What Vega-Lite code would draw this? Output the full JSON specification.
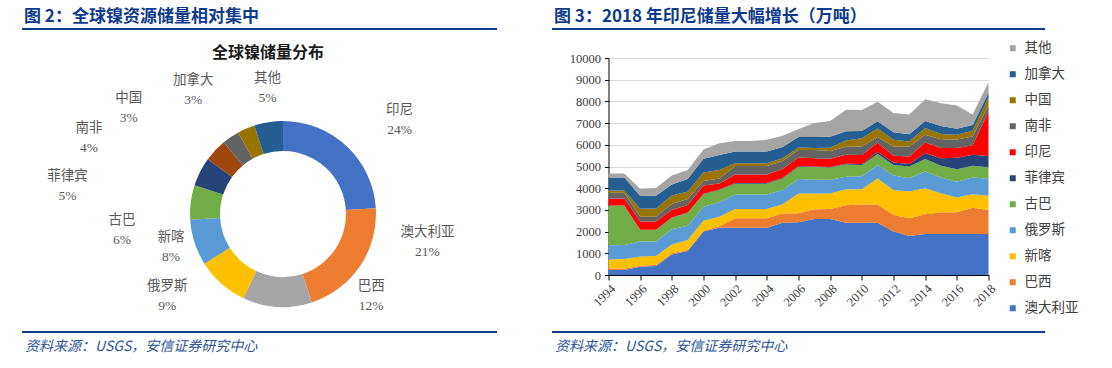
{
  "$schema": "https://vega.github.io/schema/vega-lite/v6.json",
  "padding": {"left": 22, "top": 8, "right": 0, "bottom": 0},
  "autosize": {"type": "pad"},
  "spacing": 8,
  "resolve": {"scale": {"color": "independent"}, "legend": {"color": "independent"}},
  "datasets": {
    "share": [
      {"country": "印尼", "pct": 24},
      {"country": "澳大利亚", "pct": 21},
      {"country": "巴西", "pct": 12},
      {"country": "俄罗斯", "pct": 9},
      {"country": "新喀", "pct": 8},
      {"country": "古巴", "pct": 6},
      {"country": "菲律宾", "pct": 5},
      {"country": "南非", "pct": 4},
      {"country": "中国", "pct": 3},
      {"country": "加拿大", "pct": 3},
      {"country": "其他", "pct": 5}
    ],
    "reserves": [
      {"year": 1994, "澳大利亚": 230, "巴西": 70, "新喀": 420, "俄罗斯": 650, "古巴": 1820, "菲律宾": 10, "印尼": 320, "南非": 270, "中国": 100, "加拿大": 600, "其他": 190},
      {"year": 1995, "澳大利亚": 230, "巴西": 70, "新喀": 440, "俄罗斯": 640, "古巴": 1810, "菲律宾": 10, "印尼": 320, "南非": 270, "中国": 100, "加拿大": 600, "其他": 190},
      {"year": 1996, "澳大利亚": 380, "巴西": 50, "新喀": 420, "俄罗斯": 690, "古巴": 540, "菲律宾": 10, "印尼": 370, "南非": 230, "中国": 360, "加拿大": 590, "其他": 320},
      {"year": 1997, "澳大利亚": 410, "巴西": 50, "新喀": 420, "俄罗斯": 660, "古巴": 540, "菲律宾": 10, "印尼": 370, "南非": 230, "中国": 370, "加拿大": 590, "其他": 360},
      {"year": 1998, "澳大利亚": 950, "巴西": 50, "新喀": 410, "俄罗斯": 700, "古巴": 530, "菲律宾": 10, "印尼": 340, "南非": 280, "中国": 390, "加拿大": 510, "其他": 410},
      {"year": 1999, "澳大利亚": 1110, "巴西": 40, "新喀": 460, "俄罗斯": 660, "古巴": 590, "菲律宾": 20, "印尼": 350, "南非": 270, "中国": 340, "加拿大": 580, "其他": 420},
      {"year": 2000, "澳大利亚": 2000, "巴西": 40, "新喀": 460, "俄罗斯": 650, "古巴": 570, "菲律宾": 30, "印尼": 370, "南非": 210, "中国": 390, "加拿大": 640, "其他": 420},
      {"year": 2001, "澳大利亚": 2180, "巴西": 70, "新喀": 440, "俄罗斯": 660, "古巴": 570, "菲律宾": 20, "印尼": 280, "南非": 230, "中国": 390, "加拿大": 690, "其他": 540},
      {"year": 2002, "澳大利亚": 2180, "巴西": 430, "新喀": 430, "俄罗斯": 670, "古巴": 500, "菲律宾": 30, "印尼": 390, "南非": 390, "中国": 130, "加拿大": 540, "其他": 480},
      {"year": 2003, "澳大利亚": 2180, "巴西": 430, "新喀": 430, "俄罗斯": 670, "古巴": 500, "菲律宾": 30, "印尼": 390, "南非": 390, "中国": 130, "加拿大": 540, "其他": 480},
      {"year": 2004, "澳大利亚": 2180, "巴西": 430, "新喀": 430, "俄罗斯": 670, "古巴": 500, "菲律宾": 30, "印尼": 390, "南非": 390, "中国": 130, "加拿大": 540, "其他": 540},
      {"year": 2005, "澳大利亚": 2410, "巴西": 420, "新喀": 430, "俄罗斯": 660, "古巴": 530, "菲律宾": 30, "印尼": 400, "南非": 370, "中国": 130, "加拿大": 520, "其他": 520},
      {"year": 2006, "澳大利亚": 2430, "巴西": 410, "新喀": 920, "俄罗斯": 660, "古巴": 570, "菲律宾": 30, "印尼": 390, "南非": 350, "中国": 120, "加拿大": 480, "其他": 370},
      {"year": 2007, "澳大利亚": 2580, "巴西": 450, "新喀": 730, "俄罗斯": 630, "古巴": 590, "菲律宾": 20, "印尼": 380, "南非": 380, "中国": 90, "加拿大": 510, "其他": 640},
      {"year": 2008, "澳大利亚": 2580, "巴西": 460, "新喀": 720, "俄罗斯": 630, "古巴": 560, "菲律宾": 30, "印尼": 380, "南非": 360, "中国": 140, "加拿大": 510, "其他": 730},
      {"year": 2009, "澳大利亚": 2410, "巴西": 810, "新喀": 730, "俄罗斯": 580, "古巴": 560, "菲律宾": 40, "印尼": 410, "南非": 370, "中国": 290, "加拿大": 430, "其他": 980},
      {"year": 2010, "澳大利亚": 2410, "巴西": 840, "新喀": 700, "俄罗斯": 600, "古巴": 520, "菲律宾": 50, "印尼": 410, "南非": 390, "中国": 380, "加拿大": 340, "其他": 960},
      {"year": 2011, "澳大利亚": 2410, "巴西": 840, "新喀": 1200, "俄罗斯": 620, "古巴": 510, "菲律宾": 100, "印尼": 420, "南非": 260, "中国": 390, "加拿大": 340, "其他": 890},
      {"year": 2012, "澳大利亚": 2000, "巴西": 770, "新喀": 1150, "俄罗斯": 660, "古巴": 490, "菲律宾": 110, "印尼": 320, "南非": 420, "中国": 310, "加拿大": 350, "其他": 890},
      {"year": 2013, "澳大利亚": 1800, "巴西": 820, "新喀": 1230, "俄罗斯": 610, "古巴": 540, "菲律宾": 110, "印尼": 350, "南非": 460, "中国": 230, "加拿大": 340, "其他": 910},
      {"year": 2014, "澳大利亚": 1890, "巴西": 910, "新喀": 1200, "俄罗斯": 770, "古巴": 570, "菲律宾": 280, "印尼": 490, "南非": 350, "中国": 310, "加拿大": 330, "其他": 1000},
      {"year": 2015, "澳大利亚": 1890, "巴西": 1000, "新喀": 880, "俄罗斯": 720, "古巴": 540, "菲律宾": 350, "印尼": 470, "南非": 410, "中国": 240, "加拿大": 370, "其他": 1050},
      {"year": 2016, "澳大利亚": 1890, "巴西": 1000, "新喀": 680, "俄罗斯": 730, "古巴": 570, "菲律宾": 530, "印尼": 450, "南非": 390, "中国": 220, "加拿大": 280, "其他": 1070},
      {"year": 2017, "澳大利亚": 1890, "巴西": 1210, "新喀": 620, "俄罗斯": 770, "古巴": 540, "菲律宾": 510, "印尼": 440, "南非": 400, "中国": 270, "加拿大": 260, "其他": 490},
      {"year": 2018, "澳大利亚": 1890, "巴西": 1100, "新喀": 660, "俄罗斯": 780, "古巴": 530, "菲律宾": 520, "印尼": 2060, "南非": 280, "中国": 350, "加拿大": 230, "其他": 480}
    ]
  },
  "hconcat": [
    {
      "spacing": 0,
      "bounds": "flush",
      "vconcat": [
        {
          "width": 475, "height": 2,
          "view": {"fill": "#0C3A8C", "stroke": null},
          "data": {"values": [{"a": 0}]},
          "mark": {"type": "point", "opacity": 0},
          "title": {"text": "图 2：全球镍资源储量相对集中", "frame": "group", "anchor": "start", "orient": "top", "offset": 6, "dx": 2, "dy": 19, "baseline": "alphabetic", "fontSize": 17, "fontWeight": "bold", "color": "#0C3A8C"}
        },
        {"width": 475, "height": 67, "data": {"values": [{"a": 0}]}, "mark": {"type": "point", "opacity": 0}},
        {
          "width": 522, "height": 234,
          "title": {"text": "全球镍储量分布", "frame": "group", "anchor": "middle", "orient": "top", "dx": -15, "dy": 41, "offset": 38, "baseline": "alphabetic", "fontSize": 16, "fontWeight": "bold", "color": "#1a1a1a"},
          "data": {"name": "share"},
          "transform": [
            {"calculate": "indexof(['印尼','澳大利亚','巴西','俄罗斯','新喀','古巴','菲律宾','南非','中国','加拿大','其他'], datum.country)", "as": "k"},
            {"window": [{"op": "sum", "field": "pct", "as": "cum"}], "sort": [{"field": "k", "order": "ascending"}], "frame": [null, 0]},
            {"calculate": "datum.cum - datum.pct / 2", "as": "mid"},
            {"calculate": "datum.country + '\\n' + datum.pct + '%'", "as": "label"}
          ],
          "layer": [
            {
              "mark": {"type": "arc", "innerRadius": 63, "outerRadius": 93},
              "encoding": {
                "theta": {"field": "pct", "type": "quantitative", "stack": true, "scale": {"domain": [0, 100]}},
                "order": {"field": "k", "type": "quantitative", "sort": "ascending"},
                "color": {"field": "country", "type": "nominal", "legend": null,
                  "scale": {"domain": ["印尼","澳大利亚","巴西","俄罗斯","新喀","古巴","菲律宾","南非","中国","加拿大","其他"],
                            "range": ["#4472C4","#ED7D31","#A5A5A5","#FFC000","#5B9BD5","#70AD47","#264478","#9E480E","#636363","#997300","#255E91"]}}
              }
            },
            {"transform": [{"filter": "datum.country === '印尼'"}], "mark": {"type": "text", "radius": 125, "dx": 31, "dy": -13}, "encoding": {"theta": {"field": "mid", "type": "quantitative", "stack": null, "scale": {"domain": [0, 100]}}, "text": {"field": "label"}}},
            {"transform": [{"filter": "datum.country === '澳大利亚'"}], "mark": {"type": "text", "radius": 125, "dx": 41, "dy": -52}, "encoding": {"theta": {"field": "mid", "type": "quantitative", "stack": null, "scale": {"domain": [0, 100]}}, "text": {"field": "label"}}},
            {"transform": [{"filter": "datum.country === '巴西'"}], "mark": {"type": "text", "radius": 125, "dx": 96, "dy": -53}, "encoding": {"theta": {"field": "mid", "type": "quantitative", "stack": null, "scale": {"domain": [0, 100]}}, "text": {"field": "label"}}},
            {"transform": [{"filter": "datum.country === '俄罗斯'"}], "mark": {"type": "text", "radius": 125, "dx": -33, "dy": -22}, "encoding": {"theta": {"field": "mid", "type": "quantitative", "stack": null, "scale": {"domain": [0, 100]}}, "text": {"field": "label"}}},
            {"transform": [{"filter": "datum.country === '新喀'"}], "mark": {"type": "text", "radius": 125, "dx": 7, "dy": -16}, "encoding": {"theta": {"field": "mid", "type": "quantitative", "stack": null, "scale": {"domain": [0, 100]}}, "text": {"field": "label"}}},
            {"transform": [{"filter": "datum.country === '古巴'"}], "mark": {"type": "text", "radius": 125, "dx": -37, "dy": 22}, "encoding": {"theta": {"field": "mid", "type": "quantitative", "stack": null, "scale": {"domain": [0, 100]}}, "text": {"field": "label"}}},
            {"transform": [{"filter": "datum.country === '菲律宾'"}], "mark": {"type": "text", "radius": 125, "dx": -104, "dy": 19}, "encoding": {"theta": {"field": "mid", "type": "quantitative", "stack": null, "scale": {"domain": [0, 100]}}, "text": {"field": "label"}}},
            {"transform": [{"filter": "datum.country === '南非'"}], "mark": {"type": "text", "radius": 125, "dx": -103, "dy": 0}, "encoding": {"theta": {"field": "mid", "type": "quantitative", "stack": null, "scale": {"domain": [0, 100]}}, "text": {"field": "label"}}},
            {"transform": [{"filter": "datum.country === '中国'"}], "mark": {"type": "text", "radius": 125, "dx": -84, "dy": -13}, "encoding": {"theta": {"field": "mid", "type": "quantitative", "stack": null, "scale": {"domain": [0, 100]}}, "text": {"field": "label"}}},
            {"transform": [{"filter": "datum.country === '加拿大'"}], "mark": {"type": "text", "radius": 125, "dx": -40, "dy": -19}, "encoding": {"theta": {"field": "mid", "type": "quantitative", "stack": null, "scale": {"domain": [0, 100]}}, "text": {"field": "label"}}},
            {"transform": [{"filter": "datum.country === '其他'"}], "mark": {"type": "text", "radius": 125, "dx": 4, "dy": -13}, "encoding": {"theta": {"field": "mid", "type": "quantitative", "stack": null, "scale": {"domain": [0, 100]}}, "text": {"field": "label"}}}
          ]
        },
        {
          "width": 475, "height": 2,
          "view": {"fill": "#0C3A8C", "stroke": null},
          "data": {"values": [{"a": 0}]},
          "mark": {"type": "point", "opacity": 0},
          "title": {"text": "资料来源：USGS，安信证券研究中心", "frame": "group", "anchor": "start", "orient": "bottom", "offset": 16, "dx": 3, "baseline": "alphabetic", "fontSize": 14, "fontWeight": "normal", "fontStyle": "italic", "color": "#2F5597"}
        }
      ]
    },
    {
      "spacing": 0,
      "bounds": "flush",
      "center": true,
      "vconcat": [
        {
          "width": 493, "height": 2,
          "view": {"fill": "#0C3A8C", "stroke": null},
          "data": {"values": [{"a": 0}]},
          "mark": {"type": "point", "opacity": 0},
          "title": {"text": "图 3：2018 年印尼储量大幅增长（万吨）", "frame": "group", "anchor": "start", "orient": "top", "offset": 6, "dx": 2, "dy": 19, "baseline": "alphabetic", "fontSize": 17, "fontWeight": "bold", "color": "#0C3A8C"}
        },
        {"width": 493, "height": 28, "data": {"values": [{"a": 0}]}, "mark": {"type": "point", "opacity": 0}},
        {
          "width": 380, "height": 217,
          "data": {"name": "reserves"},
          "transform": [
            {"fold": ["澳大利亚","巴西","新喀","俄罗斯","古巴","菲律宾","印尼","南非","中国","加拿大","其他"], "as": ["key", "value"]},
            {"calculate": "indexof(['澳大利亚','巴西','新喀','俄罗斯','古巴','菲律宾','印尼','南非','中国','加拿大','其他'], datum.key)", "as": "k"}
          ],
          "mark": {"type": "area", "interpolate": "linear"},
          "encoding": {
            "x": {"field": "year", "type": "quantitative",
              "scale": {"domain": [1994, 2018], "nice": false, "zero": false},
              "axis": {"title": null, "values": [1994,1996,1998,2000,2002,2004,2006,2008,2010,2012,2014,2016,2018], "format": "d", "labelAngle": -45, "grid": false, "tickSize": 5, "tickColor": "#000000", "domainColor": "#000000", "labelFont": "Liberation Serif", "labelFontSize": 12.5, "labelColor": "#404040", "labelPadding": 2}},
            "y": {"field": "value", "type": "quantitative", "stack": "zero",
              "scale": {"domain": [0, 10000], "nice": false},
              "axis": {"title": null, "values": [0,1000,2000,3000,4000,5000,6000,7000,8000,9000,10000], "format": "d", "grid": true, "gridColor": "#D9D9D9", "tickSize": 4, "tickColor": "#000000", "domainColor": "#000000", "labelFont": "Liberation Serif", "labelFontSize": 12.5, "labelColor": "#404040", "labelPadding": 4}},
            "color": {"field": "key", "type": "nominal",
              "scale": {"domain": ["其他","加拿大","中国","南非","印尼","菲律宾","古巴","俄罗斯","新喀","巴西","澳大利亚"],
                        "range": ["#A5A5A5","#255E91","#997300","#636363","#FF0000","#264478","#70AD47","#5B9BD5","#FFC000","#ED7D31","#4472C4"]},
              "legend": {"title": null, "orient": "none", "direction": "vertical", "legendX": 454, "legendY": 13.5, "padding": 0, "symbolType": "square", "symbolSize": 36, "symbolStrokeWidth": 0, "labelOffset": 5, "rowPadding": 11, "labelFont": "Noto Sans CJK SC", "labelFontSize": 13.5, "labelColor": "#404040"}},
            "order": {"field": "k", "type": "quantitative", "sort": "ascending"}
          }
        },
        {"width": 493, "height": 56, "data": {"values": [{"a": 0}]}, "mark": {"type": "point", "opacity": 0}},
        {
          "width": 493, "height": 2,
          "view": {"fill": "#0C3A8C", "stroke": null},
          "data": {"values": [{"a": 0}]},
          "mark": {"type": "point", "opacity": 0},
          "title": {"text": "资料来源：USGS，安信证券研究中心", "frame": "group", "anchor": "start", "orient": "bottom", "offset": 16, "dx": 3, "baseline": "alphabetic", "fontSize": 14, "fontWeight": "normal", "fontStyle": "italic", "color": "#2F5597"}
        }
      ]
    }
  ],
  "config": {
    "view": {"stroke": null},
    "title": {"font": "Noto Sans CJK SC"},
    "text": {"font": "'Liberation Serif', 'Noto Sans CJK SC'", "fontSize": 13.5, "color": "#595959", "lineBreak": "\n", "lineHeight": 20, "align": "center", "baseline": "middle"}
  }
}
